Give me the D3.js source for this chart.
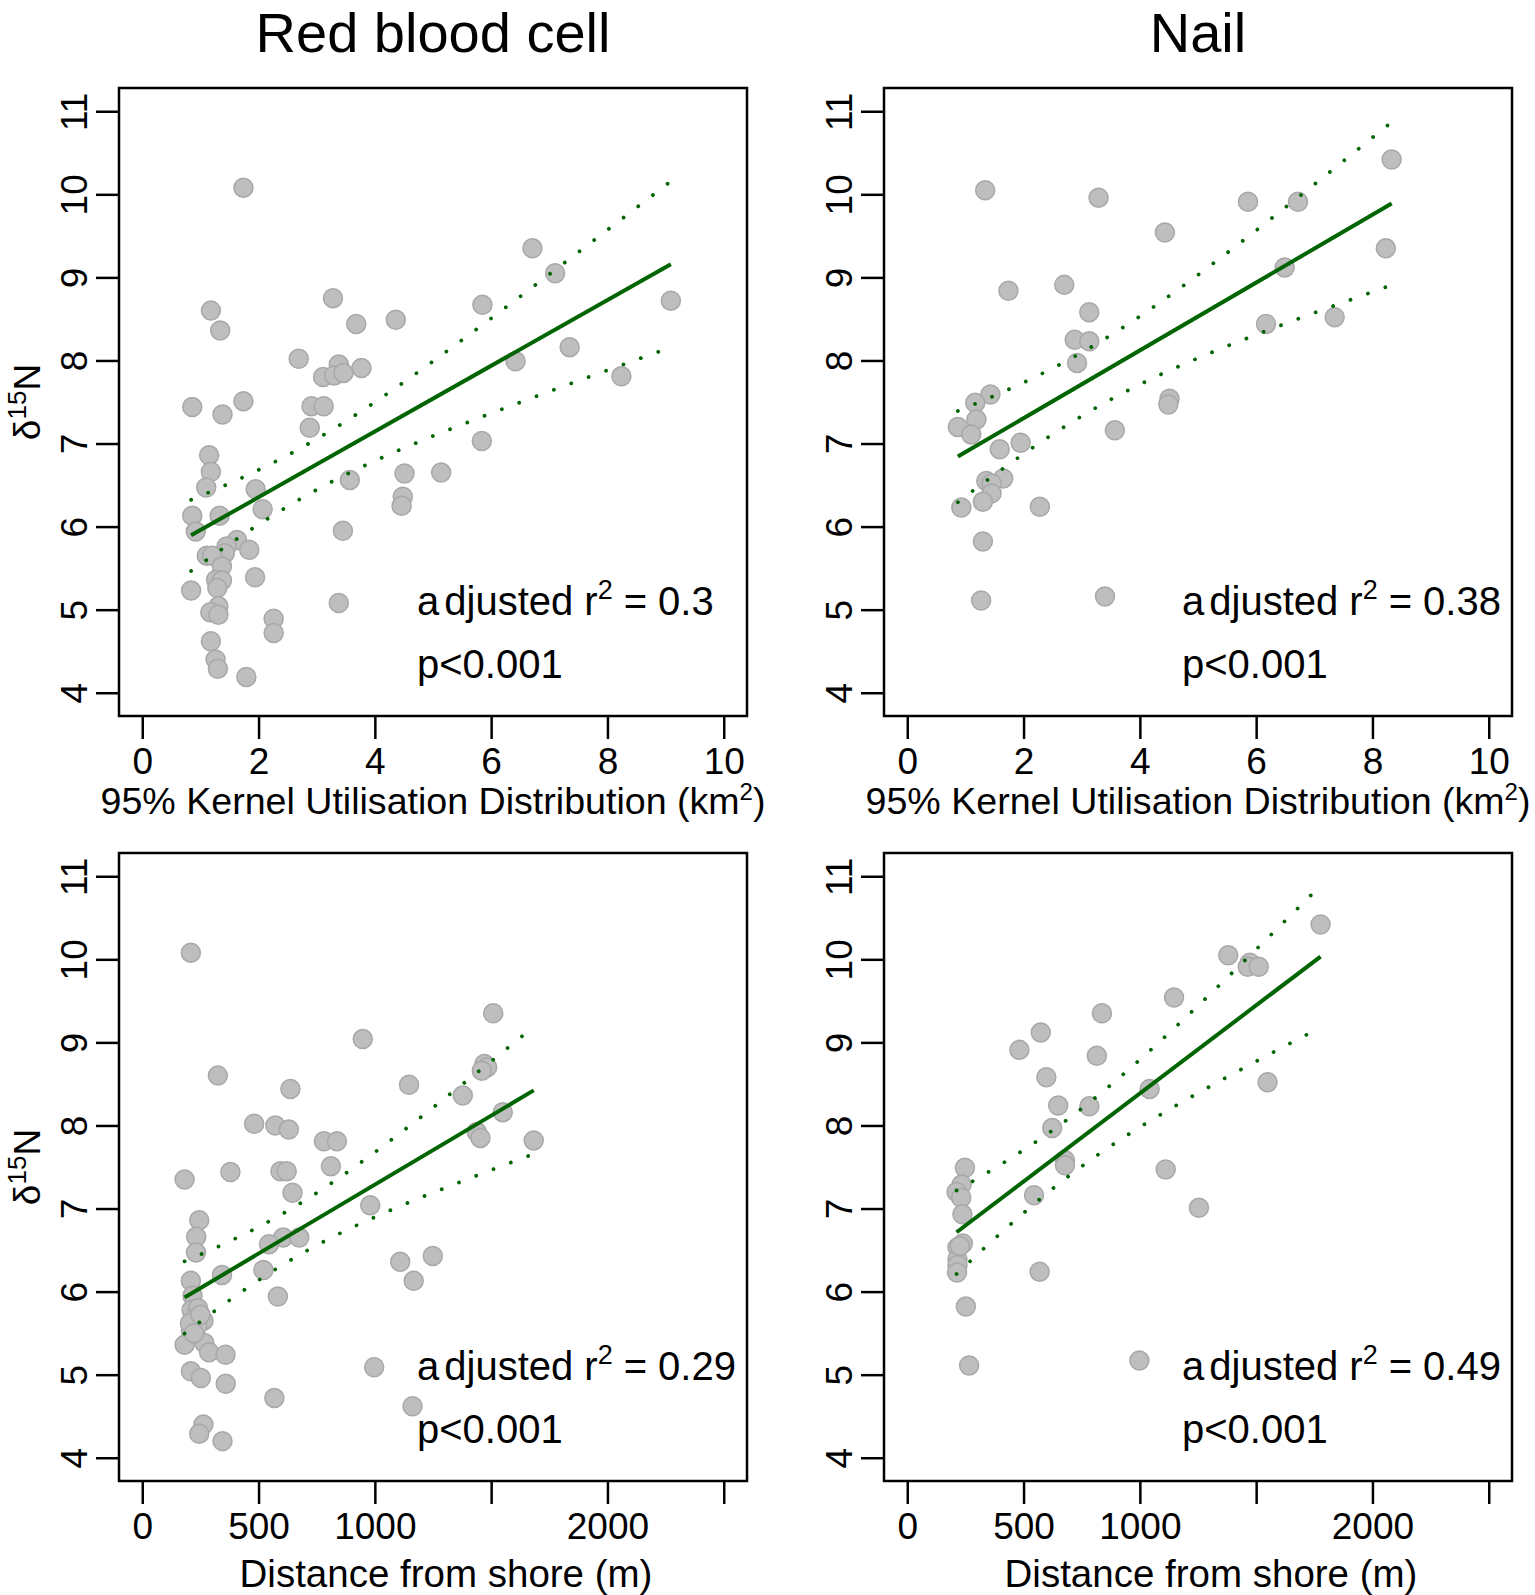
<!DOCTYPE html>
<html>
<head>
<meta charset="utf-8">
<script src="https://cdn.jsdelivr.net/npm/d3@7"></script>
<style>
  body { margin: 0; background: #fff; }
  svg text { font-family: "Liberation Sans", Arial, Helvetica, sans-serif; fill: #000; }
</style>
</head>
<body>
<script>
// ---- data ----
var columnTitles = ['Red blood cell', 'Nail'];

// 95% kernel UD (km2) vs d15N
var rbcKernelX = [1.74,6.71,7.10,9.09,3.28,5.85,3.68,4.36,1.18,1.34,2.69,7.35,6.42,8.24,3.38,3.11,3.30,3.46,3.77,0.86,
  1.38,1.74,2.91,3.12,2.88,5.84,1.15,1.18,1.10,4.51,5.14,3.57,1.95,4.48,4.46,0.86,1.33,2.07,0.92,3.45,
  1.63,1.84,1.45,1.42,1.11,1.20,1.37,1.94,0.84,1.27,1.37,1.29,3.38,1.31,1.17,1.31,2.26,2.26,1.18,1.26,1.30,1.79];
var rbcKernelY = [10.08,9.35,9.05,8.72,8.75,8.67,8.44,8.49,8.60,8.36,8.02,8.16,7.99,7.81,7.95,7.80,7.82,7.85,7.91,7.44,
  7.35,7.51,7.45,7.45,7.19,7.03,6.86,6.66,6.47,6.64,6.65,6.56,6.45,6.36,6.25,6.13,6.13,6.21,5.94,5.95,
  5.84,5.72,5.76,5.68,5.65,5.65,5.52,5.39,5.23,5.36,5.35,5.26,5.08,5.04,4.97,4.94,4.89,4.72,4.62,4.40,4.29,4.19];

var nailKernelX = [1.34,3.29,5.86,6.72,8.33,4.43,8.23,6.49,1.74,2.70,3.13,2.88,3.13,2.92,6.17,7.35,1.43,1.17,4.51,4.49,
  1.19,0.87,1.10,3.57,1.95,1.59,1.65,1.36,1.45,1.45,1.30,0.93,2.28,1.30,3.40,1.27];
var nailKernelY = [10.05,9.96,9.91,9.91,10.42,9.54,9.35,9.12,8.84,8.91,8.58,8.25,8.23,7.97,8.44,8.52,7.59,7.49,7.54,7.47,
  7.29,7.20,7.11,7.16,7.01,6.93,6.58,6.55,6.52,6.40,6.30,6.23,6.24,5.82,5.16,5.11];

// distance from shore (m) vs d15N
var rbcDistX = [209,1509,948,325,637,1147,1378,1471,1483,1460,481,572,630,1550,1438,1454,781,837,1683,182,
  379,594,621,811,646,980,245,232,231,1109,1249,1167,209,343,606,545,675,521,583,216,
  212,240,227,263,209,182,267,287,358,997,209,252,359,568,1162,263,245,345,236,205,250,222];
var rbcDistY = [10.08,9.35,9.04,8.60,8.44,8.49,8.36,8.74,8.70,8.66,8.02,8.00,7.95,8.16,7.92,7.85,7.81,7.81,7.82,7.35,
  7.44,7.45,7.45,7.51,7.19,7.04,6.86,6.66,6.47,6.36,6.43,6.13,6.13,6.20,6.65,6.57,6.65,6.26,5.94,5.95,
  5.78,5.80,5.68,5.65,5.53,5.36,5.38,5.27,5.24,5.09,5.04,4.96,4.89,4.72,4.62,4.40,4.29,4.20,5.58,5.62,5.72,5.50];

var nailDistX = [1777,1380,1473,1464,1511,1147,837,574,482,815,598,1042,1549,649,783,623,678,678,248,1111,
  234,212,232,545,1254,237,239,216,216,216,214,569,252,266,998,226];
var nailDistY = [10.42,10.05,9.96,9.91,9.91,9.54,9.35,9.12,8.91,8.84,8.58,8.44,8.52,8.24,8.23,7.97,7.58,7.52,7.49,7.47,
  7.29,7.20,7.13,7.16,7.01,6.93,6.58,6.53,6.39,6.32,6.23,6.24,5.82,5.11,5.17,6.55];

var kernelTicks = [0, 2, 4, 6, 8, 10];
var kernelTickLabels = ['0', '2', '4', '6', '8', '10'];
var distTicks = [0, 500, 1000, 1500, 2000, 2500];
var distTickLabels = ['0', '500', '1000', '', '2000', ''];
var yTicks = [4, 5, 6, 7, 8, 9, 10, 11];

var r2Labels = ['0.3', '0.38', '0.29', '0.49'];
var pLabels = ['p<0.001', 'p<0.001', 'p<0.001', 'p<0.001'];

// ---- layout ----
var W = 1535, H = 1595;
var boxW = 628, boxH = 628;
var colLeft = [119, 884];
var rowTop = [88, 853];
var green = '#006400';
var FONT = '"Liberation Sans", Arial, Helvetica, sans-serif';

var panels = [
  { col: 0, row: 0, xs: rbcKernelX, ys: rbcKernelY, xlim: [0, 10], ticks: kernelTicks, tickLabels: kernelTickLabels, xlab: 'kernel', r2: r2Labels[0], p: pLabels[0] },
  { col: 1, row: 0, xs: nailKernelX, ys: nailKernelY, xlim: [0, 10], ticks: kernelTicks, tickLabels: kernelTickLabels, xlab: 'kernel', r2: r2Labels[1], p: pLabels[1] },
  { col: 0, row: 1, xs: rbcDistX, ys: rbcDistY, xlim: [0, 2500], ticks: distTicks, tickLabels: distTickLabels, xlab: 'dist', r2: r2Labels[2], p: pLabels[2] },
  { col: 1, row: 1, xs: nailDistX, ys: nailDistY, xlim: [0, 2500], ticks: distTicks, tickLabels: distTickLabels, xlab: 'dist', r2: r2Labels[3], p: pLabels[3] }
];

// R style 4% axis extension
function pad(lim) {
  var d = (lim[1] - lim[0]) * 0.04;
  return [lim[0] - d, lim[1] + d];
}

// approx t quantile (0.975) by Cornish-Fisher
function tq(df) {
  var z = 1.959964;
  var g1 = (Math.pow(z, 3) + z) / 4;
  var g2 = (5 * Math.pow(z, 5) + 16 * Math.pow(z, 3) + 3 * z) / 96;
  return z + g1 / df + g2 / (df * df);
}

// least squares fit with 95% confidence band
function fitLm(xs, ys) {
  var n = xs.length;
  var xm = d3.mean(xs), ym = d3.mean(ys);
  var sxx = d3.sum(xs, function(x) { return (x - xm) * (x - xm); });
  var sxy = d3.sum(xs, function(x, i) { return (x - xm) * (ys[i] - ym); });
  var b = sxy / sxx, a = ym - b * xm;
  var sse = d3.sum(xs, function(x, i) { var r = ys[i] - a - b * x; return r * r; });
  var s2 = sse / (n - 2);
  var t = tq(n - 2);
  var lo = d3.min(xs), hi = d3.max(xs);
  var grid = d3.range(0, 101).map(function(i) { return lo + (hi - lo) * i / 100; });
  return grid.map(function(x) {
    var yhat = a + b * x;
    var se = Math.sqrt(s2 * (1 / n + (x - xm) * (x - xm) / sxx));
    return { x: x, fit: yhat, lwr: yhat - t * se, upr: yhat + t * se };
  });
}

var svg = d3.select('body').append('svg')
    .attr('width', W)
    .attr('height', H);

// column titles
svg.selectAll('text.title')
    .data(columnTitles)
    .enter()
    .append('text')
    .attr('class', 'title')
    .attr('x', function(d, i) { return colLeft[i] + boxW / 2; })
    .attr('y', 52)
    .attr('text-anchor', 'middle')
    .style('font-size', '56px')
    .text(function(d) { return d; });

panels.forEach(function(p) {
  var left = colLeft[p.col], top = rowTop[p.row];
  var g = svg.append('g').attr('transform', 'translate(' + left + ',' + top + ')');

  var x = d3.scaleLinear().domain(pad(p.xlim)).range([0, boxW]);
  var y = d3.scaleLinear().domain(pad([4, 11])).range([boxH, 0]);

  // x axis
  var xAxis = g.append('g')
      .attr('transform', 'translate(0,' + boxH + ')')
      .call(d3.axisBottom(x)
        .tickValues(p.ticks)
        .tickSize(23)
        .tickPadding(8.5)
        .tickFormat(function(d, i) { return p.tickLabels[i]; }));
  xAxis.select('.domain').remove();
  xAxis.selectAll('line').attr('stroke', '#000').attr('stroke-width', 2.5);
  xAxis.selectAll('text')
      .attr('fill', '#000')
      .style('font-size', '37px')
      .style('font-family', FONT);

  // y axis
  var yAxis = g.append('g')
      .call(d3.axisLeft(y).tickValues(yTicks).tickSize(23));
  yAxis.select('.domain').remove();
  yAxis.selectAll('line').attr('stroke', '#000').attr('stroke-width', 2.5);
  yAxis.selectAll('text')
      .attr('fill', '#000')
      .attr('transform', 'rotate(-90)')
      .attr('x', 0)
      .attr('y', -32)
      .attr('dy', 0)
      .attr('text-anchor', 'middle')
      .style('font-size', '37px')
      .style('font-family', FONT);

  // points
  var pts = p.xs.map(function(v, i) { return { x: v, y: p.ys[i] }; });
  g.selectAll('circle')
      .data(pts)
      .enter()
      .append('circle')
      .attr('cx', function(d) { return x(d.x); })
      .attr('cy', function(d) { return y(d.y); })
      .attr('r', 9.5)
      .attr('fill', '#bebebe')
      .attr('stroke', '#a8a8a8')
      .attr('stroke-width', 1.5);

  // regression line and confidence band
  var band = fitLm(p.xs, p.ys);
  ['upr', 'lwr'].forEach(function(k) {
    g.append('path')
        .datum(band)
        .attr('fill', 'none')
        .attr('stroke', green)
        .attr('stroke-width', 3.8)
        .attr('stroke-linecap', 'round')
        .attr('stroke-dasharray', '0.01 18.5')
        .attr('d', d3.line().x(function(d) { return x(d.x); }).y(function(d) { return y(d[k]); }));
  });
  g.append('path')
      .datum([band[0], band[band.length - 1]])
      .attr('fill', 'none')
      .attr('stroke', green)
      .attr('stroke-width', 4)
      .attr('d', d3.line().x(function(d) { return x(d.x); }).y(function(d) { return y(d.fit); }));

  // box
  g.append('rect')
      .attr('x', 0).attr('y', 0)
      .attr('width', boxW).attr('height', boxH)
      .attr('fill', 'none')
      .attr('stroke', '#000')
      .attr('stroke-width', 2.5);

  // annotation
  var ann = g.append('text')
      .attr('x', 298)
      .attr('y', boxH - 101)
      .style('font-size', '40px');
  ann.append('tspan').text('a');
  ann.append('tspan').attr('dx', 5).text('djusted r');
  ann.append('tspan').attr('dy', -16).style('font-size', '27px').text('2');
  ann.append('tspan').attr('dy', 16).attr('dx', 11).text('=');
  ann.append('tspan').attr('dx', 11).text(p.r2);

  g.append('text')
      .attr('x', 298)
      .attr('y', boxH - 38)
      .style('font-size', '40px')
      .text(p.p);

  // x axis title
  var xt = g.append('text')
      .attr('text-anchor', 'middle')
      .style('font-size', '37.6px');
  if (p.xlab === 'kernel') {
    xt.attr('x', boxW / 2).attr('y', boxH + 98);
    xt.append('tspan').text('95% Kernel Utilisation Distribution (km');
    xt.append('tspan').attr('dy', -14).style('font-size', '24px').text('2');
    xt.append('tspan').attr('dy', 14).text(')');
  } else {
    xt.style('font-size', '38.5px');
    xt.attr('x', boxW / 2 + 13).attr('y', boxH + 106);
    xt.text('Distance from shore (m)');
  }

  // y axis title, left column only
  if (p.col === 0) {
    var yt = g.append('text')
        .attr('transform', 'translate(' + (40 - left) + ',' + (boxH / 2) + ') rotate(-90)')
        .attr('text-anchor', 'middle')
        .style('font-size', '37px');
    yt.append('tspan').text('\u03b4');
    yt.append('tspan').attr('dy', -14).style('font-size', '26px').text('15');
    yt.append('tspan').attr('dy', 14).text('N');
  }
});
</script>
</body>
</html>
